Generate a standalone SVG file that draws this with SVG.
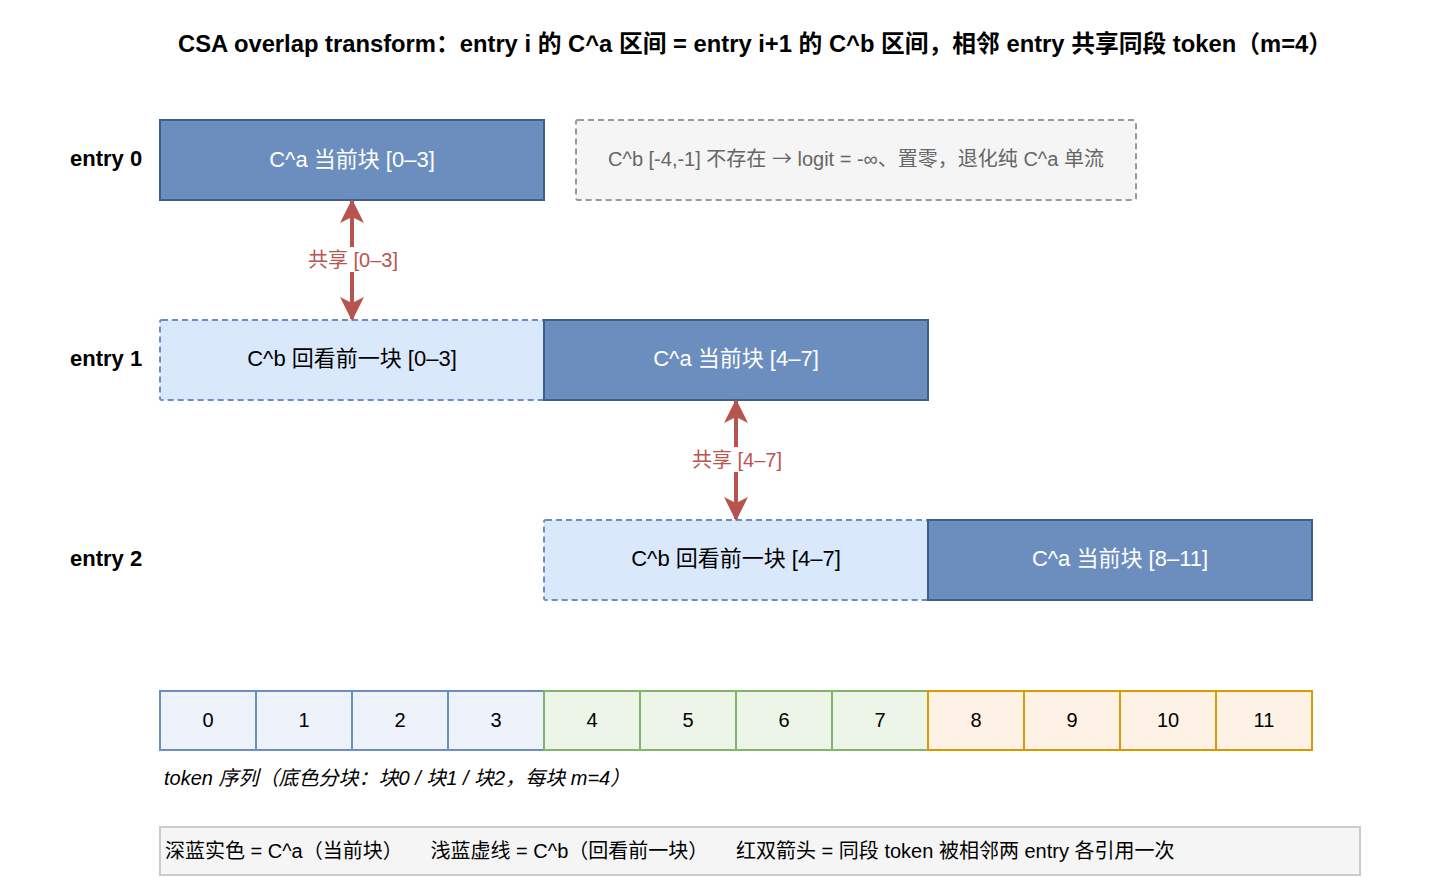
<svg xmlns="http://www.w3.org/2000/svg" width="1432" height="889" viewBox="0 0 1432 889">
<defs>
<style>
text{font-family:"Liberation Sans","Noto Sans CJK SC",Arial,sans-serif;}
.title{font-size:24px;font-weight:bold;fill:#000;}
.lbl{font-size:22px;font-weight:bold;fill:#000;}
.ca{fill:#6c8ebf;stroke:#3f5f88;stroke-width:2;}
.cb{fill:#dae8fc;stroke:#6c8ebf;stroke-width:2;stroke-dasharray:6 4;}
.na{fill:#f5f5f5;stroke:#999;stroke-width:2;stroke-dasharray:6 4;}
.tw{font-size:22px;fill:#fff;}
.tb{font-size:22px;fill:#000;}
.tg{font-size:20px;fill:#666;}
.cjk{font-family:"Noto Sans CJK SC","DejaVu Sans",sans-serif;}
.arr{stroke:#b85450;stroke-width:4;fill:none;}
.al{font-size:20px;fill:#b85450;}
.k0{fill:#eef2fb;stroke:#6c8ebf;stroke-width:2;}
.k1{fill:#edf5e8;stroke:#82b366;stroke-width:2;}
.k2{fill:#fef2e6;stroke:#d79b00;stroke-width:2;}
.tk{font-size:20px;fill:#000;}
.cap{font-size:20px;font-style:italic;fill:#000;}
.leg{fill:#f5f5f5;stroke:#ccc;stroke-width:2;}
.lt{font-size:20px;fill:#000;}
</style>
<marker id="ah" viewBox="0 0 24 24" refX="22" refY="12" markerWidth="24" markerHeight="24" orient="auto-start-reverse" markerUnits="userSpaceOnUse">
<path d="M0,0 L24,12 L0,24 L6,12 Z" fill="#b85450"/>
</marker>
</defs>
<rect width="1432" height="889" fill="#fff"/>
<text class="title" x="755" y="52" text-anchor="middle" textLength="1154" lengthAdjust="spacingAndGlyphs">CSA overlap transform：entry i 的 C^a 区间 = entry i+1 的 C^b 区间，相邻 entry 共享同段 token（m=4）</text>

<g id="label-entry0"><text class="lbl" x="70" y="166">entry 0</text></g>
<g id="label-entry1"><text class="lbl" x="70" y="366">entry 1</text></g>
<g id="label-entry2"><text class="lbl" x="70" y="566">entry 2</text></g>

<g id="e0-ca"><rect class="ca" x="160" y="120" width="384" height="80"/><text class="tw" x="352" y="167" text-anchor="middle">C^a 当前块 [0–3]</text></g>
<g id="e0-na"><rect class="na" x="576" y="120" width="560" height="80" rx="2"/><text class="tg" x="856" y="166" text-anchor="middle">C^b [-4,-1] 不存在 <tspan class="cjk">→</tspan> logit = -∞、置零，退化纯 C^a 单流</text></g>

<g id="e1-cb"><rect class="cb" x="160" y="320" width="384" height="80" rx="2"/><text class="tb" x="352" y="366" text-anchor="middle">C^b 回看前一块 [0–3]</text></g>
<g id="e1-ca"><rect class="ca" x="544" y="320" width="384" height="80"/><text class="tw" x="736" y="366" text-anchor="middle">C^a 当前块 [4–7]</text></g>

<g id="e2-cb"><rect class="cb" x="544" y="520" width="384" height="80" rx="2"/><text class="tb" x="736" y="566" text-anchor="middle">C^b 回看前一块 [4–7]</text></g>
<g id="e2-ca"><rect class="ca" x="928" y="520" width="384" height="80"/><text class="tw" x="1120" y="566" text-anchor="middle">C^a 当前块 [8–11]</text></g>

<g id="connectors">
<line class="arr" x1="352" y1="201" x2="352" y2="319" marker-start="url(#ah)" marker-end="url(#ah)"/>
<rect x="304" y="247" width="98" height="25" fill="#fff"/>
<text class="al" x="353" y="267" text-anchor="middle">共享 [0–3]</text>
<line class="arr" x1="736" y1="401" x2="736" y2="519" marker-start="url(#ah)" marker-end="url(#ah)"/>
<rect x="688" y="447" width="98" height="25" fill="#fff"/>
<text class="al" x="737" y="467" text-anchor="middle">共享 [4–7]</text>
</g>

<g id="tokens">
<rect class="k0" x="160" y="691" width="96" height="59"/><text class="tk" x="208" y="727" text-anchor="middle">0</text>
<rect class="k0" x="256" y="691" width="96" height="59"/><text class="tk" x="304" y="727" text-anchor="middle">1</text>
<rect class="k0" x="352" y="691" width="96" height="59"/><text class="tk" x="400" y="727" text-anchor="middle">2</text>
<rect class="k0" x="448" y="691" width="96" height="59"/><text class="tk" x="496" y="727" text-anchor="middle">3</text>
<rect class="k1" x="544" y="691" width="96" height="59"/><text class="tk" x="592" y="727" text-anchor="middle">4</text>
<rect class="k1" x="640" y="691" width="96" height="59"/><text class="tk" x="688" y="727" text-anchor="middle">5</text>
<rect class="k1" x="736" y="691" width="96" height="59"/><text class="tk" x="784" y="727" text-anchor="middle">6</text>
<rect class="k1" x="832" y="691" width="96" height="59"/><text class="tk" x="880" y="727" text-anchor="middle">7</text>
<rect class="k2" x="928" y="691" width="96" height="59"/><text class="tk" x="976" y="727" text-anchor="middle">8</text>
<rect class="k2" x="1024" y="691" width="96" height="59"/><text class="tk" x="1072" y="727" text-anchor="middle">9</text>
<rect class="k2" x="1120" y="691" width="96" height="59"/><text class="tk" x="1168" y="727" text-anchor="middle">10</text>
<rect class="k2" x="1216" y="691" width="96" height="59"/><text class="tk" x="1264" y="727" text-anchor="middle">11</text>
</g>
<text class="cap" x="164" y="785">token 序列（底色分块：块0 / 块1 / 块2，每块 m=4）</text>

<g id="legend">
<rect class="leg" x="160" y="827" width="1200" height="48"/>
<text class="lt" x="165" y="858" xml:space="preserve">深蓝实色 = C^a（当前块）     浅蓝虚线 = C^b（回看前一块）     红双箭头 = 同段 token 被相邻两 entry 各引用一次</text>
</g>
</svg>
